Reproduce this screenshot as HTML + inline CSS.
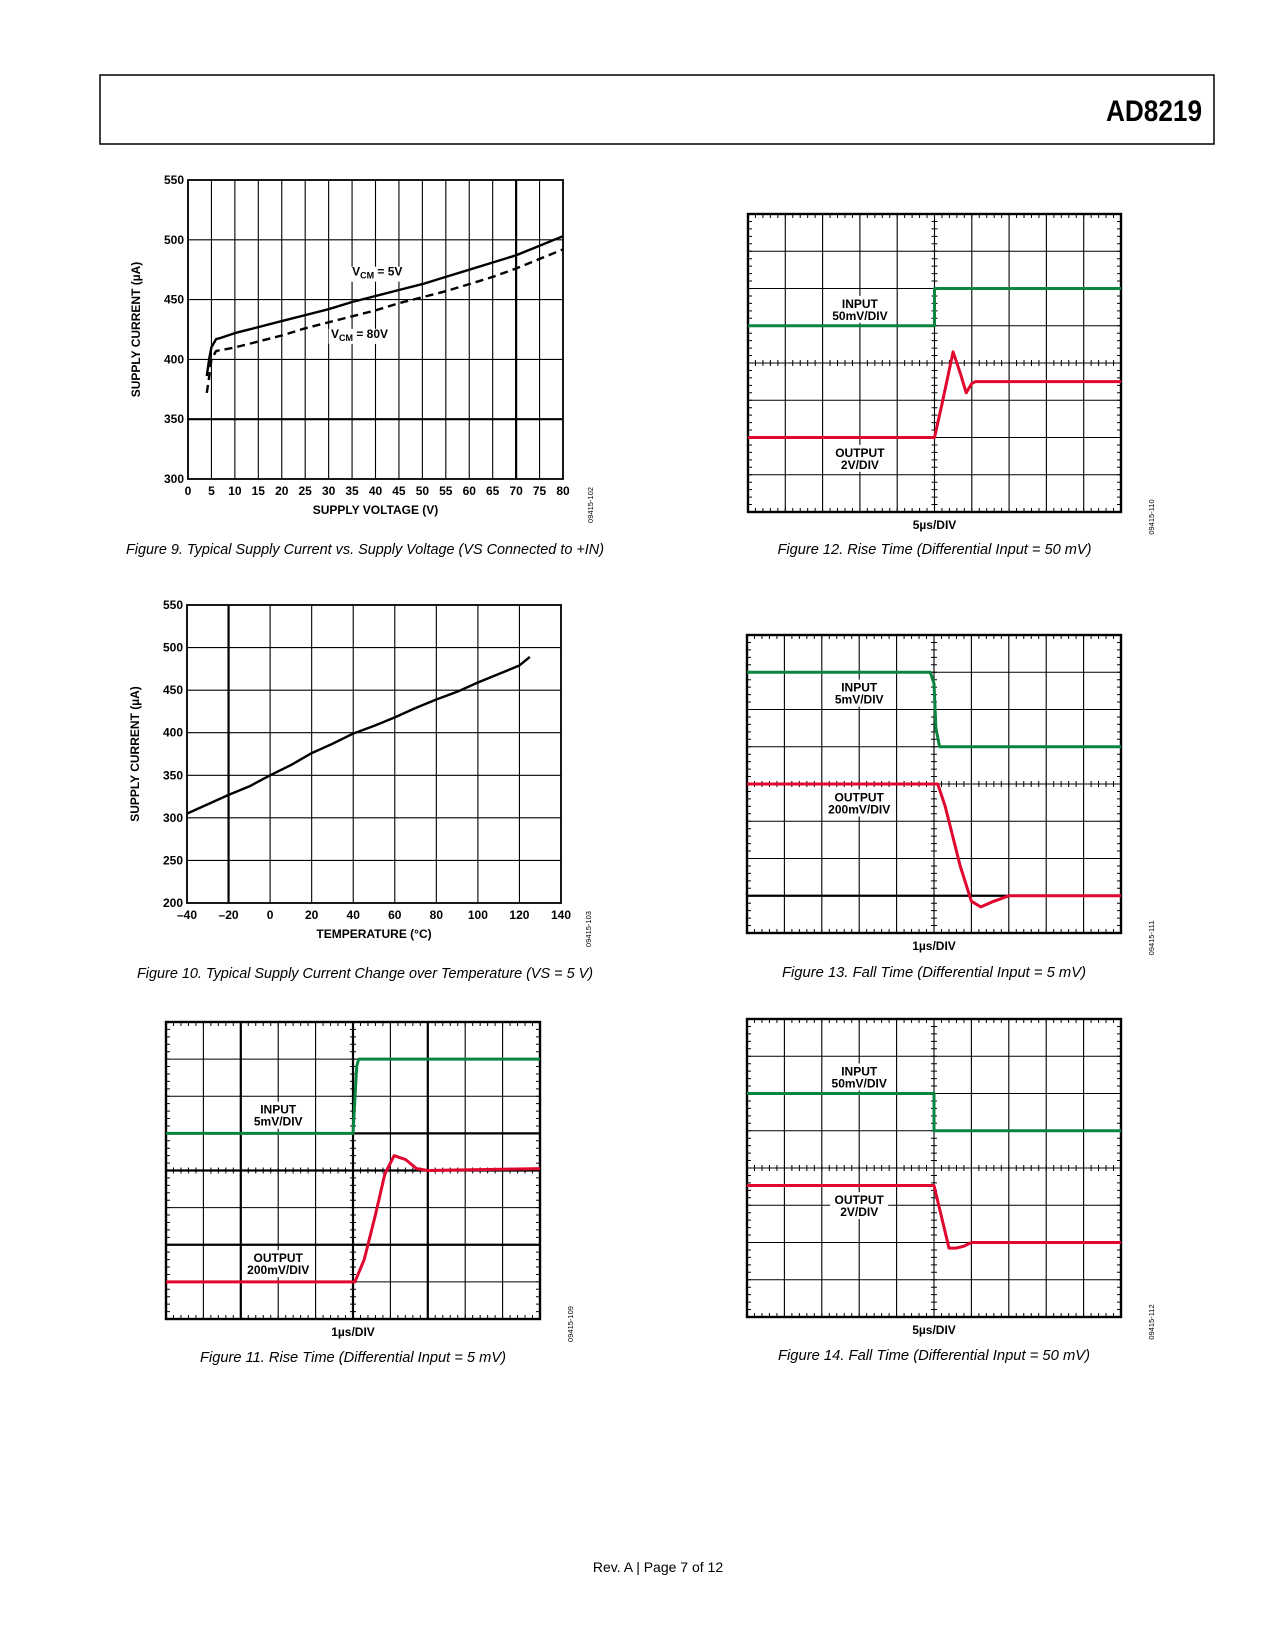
<!DOCTYPE html>
<html><head><meta charset="utf-8"><style>
html,body{margin:0;padding:0;background:#fff}
svg{display:block}
text{font-family:"Liberation Sans",sans-serif}
.tk{font-size:12px;font-weight:bold}
.cap{font-size:15px;font-style:italic}
.lbl{font-size:12px;font-weight:bold}
.code{font-size:7.5px}
</style></head><body>
<svg id="page" width="1275" height="1650" viewBox="0 0 1275 1650" xmlns="http://www.w3.org/2000/svg">
<rect x="100" y="75" width="1114" height="69" fill="none" stroke="#000" stroke-width="1.5"/>
<text x="1106" y="121" textLength="96" lengthAdjust="spacingAndGlyphs" style="font-size:30px;font-weight:bold">AD8219</text>
<text x="658" y="1572" text-anchor="middle" style="font-size:14px">Rev. A | Page 7 of 12</text>
<g id="root"></g>
</svg>
<script>
// ---------- Figure 9 data ----------
const f9Volt = [4,4.5,5,6,7,10,12,15,20,25,30,35,40,45,50,55,60,65,70,75,80];
const f9Vcm5 = [386,400,410,417,418,422,424,427,432,437,442,448,453,458,463,469,475,481,487,495,503];
const f9Volt80 = [4,4.5,5,6,10,15,20,25,30,35,40,45,50,55,60,65,70,75,80];
const f9Vcm80 = [372,385,400,407,410,415,420,426,431,436,441,447,452,457,463,469,476,484,492];
const f9XTicks = [0,5,10,15,20,25,30,35,40,45,50,55,60,65,70,75,80];
const f9YTicks = [300,350,400,450,500,550];
// ---------- Figure 10 data ----------
const f10Temp = [-40,-20,-10,0,10,20,30,40,50,60,70,80,90,100,110,120,125];
const f10Curr = [305,327,337,350,362,376,387,399,408,418,429,439,448,459,469,479,489];
const f10XTicks = [-40,-20,0,20,40,60,80,100,120,140];
const f10YTicks = [200,250,300,350,400,450,500,550];
// ---------- Scope traces (x in divisions 0-10, y in divisions from top 0-8) ----------
const f11InX = [0,5.0,5.1,5.15,10];  const f11InY = [3,3,1.2,1.0,1.0];
const f11OutX = [0,5.05,5.3,5.6,5.85,6.1,6.4,6.7,7.0,10]; const f11OutY = [7,7,6.4,5.2,4.1,3.6,3.7,3.95,4.0,3.95];
const f12InX = [0,5,5,10]; const f12InY = [3,3,2,2];
const f12OutX = [0,5,5.2,5.5,5.7,5.85,6.0,6.1,10]; const f12OutY = [6,6,5.1,3.7,4.3,4.8,4.55,4.5,4.5];
const f13InX = [0,4.9,5.0,5.05,5.15,10]; const f13InY = [1,1,1.3,2.5,3,3];
const f13OutX = [0,5.1,5.3,5.7,6.0,6.25,6.6,7.0,10]; const f13OutY = [4,4,4.6,6.2,7.15,7.3,7.15,7.0,7.0];
const f14InX = [0,5,5,10]; const f14InY = [2,2,3,3];
const f14OutX = [0,5.0,5.4,5.6,5.8,6.0,10]; const f14OutY = [4.47,4.47,6.15,6.15,6.1,6.0,6.0];

const NS="http://www.w3.org/2000/svg";
const root=document.getElementById('root');
function el(tag,attrs,parent,txt){const e=document.createElementNS(NS,tag);for(const k in attrs)e.setAttribute(k,attrs[k]);if(txt!==undefined)e.textContent=txt;(parent||root).appendChild(e);return e;}

function xyChart(o){
  const g=el('g',{});
  
  
  const sx=v=>o.L+(v-o.x0)/(o.x1-o.x0)*(o.R-o.L);
  const sy=v=>o.B-(v-o.y0)/(o.y1-o.y0)*(o.B-o.T);
  o.xTicks.forEach(t=>{const l=el('line',{x1:sx(t),x2:sx(t),y1:o.T,y2:o.B,stroke:'#000','stroke-width':(o.thickX||[]).includes(t)?2.2:1.1},g);
    
    const tx=el('text',{x:sx(t),y:o.B+16,'text-anchor':'middle',class:'tk'},g,o.xFmt?o.xFmt(t):t);
    });
  o.yTicks.forEach(t=>{const l=el('line',{x1:o.L,x2:o.R,y1:sy(t),y2:sy(t),stroke:'#000','stroke-width':(o.thickY||[]).includes(t)?2.2:1.1},g);
    
    const tx=el('text',{x:o.L-4,y:sy(t)+4,'text-anchor':'end',class:'tk'},g,t);
    });
  const fr=el('rect',{x:o.L,y:o.T,width:o.R-o.L,height:o.B-o.T,fill:'none',stroke:'#000','stroke-width':1.8},g);
  
  o.series.forEach(s=>{
    if(s.mask) s.mask.forEach(m=>{el('rect',{x:sx(m[0]),y:sy(m[1])-9,width:m[2],height:15,fill:'#fff'},g);});
  });
  o.series.forEach(s=>{
    const d=s.x.map((v,i)=>(i?'L':'M')+sx(v).toFixed(1)+' '+sy(s.y[i]).toFixed(1)).join(' ');
    const p=el('path',{d:d,fill:'none',stroke:'#000','stroke-width':2.4,'stroke-dasharray':s.dash||'none','stroke-linejoin':'round'},g);
    
    if(s.label){const t=el('text',{x:sx(s.label[0]),y:sy(s.label[1]),class:'lbl'},g);
      
      el('tspan',{},t,'V');el('tspan',{dy:3,style:'font-size:9px'},t,'CM');el('tspan',{dy:-3},t,' = '+s.label[2]);}
  });
  const yt=el('text',{x:0,y:0,transform:`translate(${o.L-48},${(o.T+o.B)/2}) rotate(-90)`,'text-anchor':'middle',class:'tk'},g,o.yTitle);
  
  const xt=el('text',{x:(o.L+o.R)/2,y:o.B+35,'text-anchor':'middle',class:'tk'},g,o.xTitle);
  
  const c=el('text',{x:0,y:0,transform:`translate(${o.R+30},${o.B+26}) rotate(-90)`,'text-anchor':'middle',class:'code'},g,o.code);
  
  const cap=el('text',{x:o.capX,y:o.capY,class:'cap',textLength:o.capW,lengthAdjust:'spacingAndGlyphs'},g,o.cap);
  
}

xyChart({name:'figure-9-chart',L:188,R:563,T:180,B:479,x0:0,x1:80,y0:300,y1:550,xTicks:f9XTicks,yTicks:f9YTicks,thickX:[70],thickY:[350],
  yTitle:'SUPPLY CURRENT (µA)',xTitle:'SUPPLY VOLTAGE (V)',code:'09415-102',capY:554,capX:126,capW:478,
  cap:'Figure 9. Typical Supply Current vs. Supply Voltage (VS Connected to +IN)',
  series:[{name:'vcm-5v-line',x:f9Volt,y:f9Vcm5,label:[35,470,'5V'],mask:[[34.5,470,65]]},
          {name:'vcm-80v-line',x:f9Volt80,y:f9Vcm80,dash:'8 5',label:[30.5,418,'80V'],mask:[[30,418,65]]}]});
xyChart({name:'figure-10-chart',L:187,R:561,T:605,B:903,x0:-40,x1:140,y0:200,y1:550,xTicks:f10XTicks,yTicks:f10YTicks,thickX:[-20],
  xFmt:t=>String(t).replace('-','–'),
  yTitle:'SUPPLY CURRENT (µA)',xTitle:'TEMPERATURE (°C)',code:'09415-103',capY:978,capX:137,capW:456,
  cap:'Figure 10. Typical Supply Current Change over Temperature (VS = 5 V)',
  series:[{name:'supply-current-line',x:f10Temp,y:f10Curr}]});

function scope(o){
  const g=el('g',{});
  
  
  const dx=(o.R-o.L)/10, dy=(o.B-o.T)/8;
  const sx=v=>o.L+v*dx, sy=v=>o.T+v*dy;
  for(let i=1;i<10;i++){const l=el('line',{x1:sx(i),x2:sx(i),y1:o.T,y2:o.B,stroke:'#000','stroke-width':(o.thickX||[]).includes(i)?2.2:1.1},g);
    }
  for(let i=1;i<8;i++){const l=el('line',{x1:o.L,x2:o.R,y1:sy(i),y2:sy(i),stroke:'#000','stroke-width':(o.thickY||[]).includes(i)?2.2:1.1},g);
    }
  let d='';
  for(let i=0;i<=50;i++){const x=sx(i/5);d+=`M${x} ${o.T}v4M${x} ${o.B}v-4M${x} ${sy(4)-3}v6`;}
  for(let i=0;i<=40;i++){const y=sy(i/5);d+=`M${o.L} ${y}h4M${o.R} ${y}h-4M${sx(5)-3} ${y}h6`;}
  const tk=el('path',{d:d,stroke:'#000','stroke-width':1},g);
  
  const fr=el('rect',{x:o.L,y:o.T,width:o.R-o.L,height:o.B-o.T,fill:'none',stroke:'#000','stroke-width':2.4},g);
  
  [['in',o.inLbl],['out',o.outLbl]].forEach(([k,lb])=>{
    el('rect',{x:sx(3)-lb.w/2,y:sy(lb.y)-2,width:lb.w,height:27,fill:'#fff'},g);
    const t1=el('text',{x:sx(3),y:sy(lb.y)+10,'text-anchor':'middle',class:'lbl'},g,lb.t1);
    
    const t2=el('text',{x:sx(3),y:sy(lb.y)+22,'text-anchor':'middle',class:'lbl'},g,lb.t2);
    });
  [[o.inX,o.inY,'#0a8540','input-trace'],[o.outX,o.outY,'#e0072f','output-trace']].forEach(([xs,ys,c,n])=>{
    const p=el('path',{d:xs.map((v,i)=>(i?'L':'M')+sx(v).toFixed(1)+' '+sy(ys[i]).toFixed(1)).join(' '),fill:'none',stroke:c,'stroke-width':3,'stroke-linejoin':'round'},g);
    });
  const ts=el('text',{x:sx(5),y:o.B+17,'text-anchor':'middle',class:'lbl'},g,o.time);
  
  const c=el('text',{x:0,y:0,transform:`translate(${o.R+33},${o.B+5}) rotate(-90)`,'text-anchor':'middle',class:'code'},g,o.code);
  
  const cap=el('text',{x:(o.L+o.R)/2-o.capW/2,y:o.capY,class:'cap',textLength:o.capW,lengthAdjust:'spacingAndGlyphs'},g,o.cap);
  
}
scope({name:'figure-12-scope',L:748,R:1121,T:214,B:512,inX:f12InX,inY:f12InY,outX:f12OutX,outY:f12OutY,
  inLbl:{y:2.25,t1:'INPUT',t2:'50mV/DIV',w:72},outLbl:{y:6.25,t1:'OUTPUT',t2:'2V/DIV',w:58},time:'5µs/DIV',code:'09415-110',capY:554,capW:314,
  cap:'Figure 12. Rise Time (Differential Input = 50 mV)'});
scope({name:'figure-11-scope',L:166,R:540,T:1022,B:1319,thickX:[2,5,7],thickY:[3,4,6],inX:f11InX,inY:f11InY,outX:f11OutX,outY:f11OutY,
  inLbl:{y:2.2,t1:'INPUT',t2:'5mV/DIV',w:62},outLbl:{y:6.2,t1:'OUTPUT',t2:'200mV/DIV',w:72},time:'1µs/DIV',code:'09415-109',capY:1362,capW:306,
  cap:'Figure 11. Rise Time (Differential Input = 5 mV)'});
scope({name:'figure-13-scope',L:747,R:1121,T:635,B:933,thickY:[7],inX:f13InX,inY:f13InY,outX:f13OutX,outY:f13OutY,
  inLbl:{y:1.25,t1:'INPUT',t2:'5mV/DIV',w:62},outLbl:{y:4.2,t1:'OUTPUT',t2:'200mV/DIV',w:72},time:'1µs/DIV',code:'09415-111',capY:977,capW:304,
  cap:'Figure 13. Fall Time (Differential Input = 5 mV)'});
scope({name:'figure-14-scope',L:747,R:1121,T:1019,B:1317,inX:f14InX,inY:f14InY,outX:f14OutX,outY:f14OutY,
  inLbl:{y:1.25,t1:'INPUT',t2:'50mV/DIV',w:72},outLbl:{y:4.7,t1:'OUTPUT',t2:'2V/DIV',w:58},time:'5µs/DIV',code:'09415-112',capY:1360,capW:312,
  cap:'Figure 14. Fall Time (Differential Input = 50 mV)'});
</script>
</body></html>
